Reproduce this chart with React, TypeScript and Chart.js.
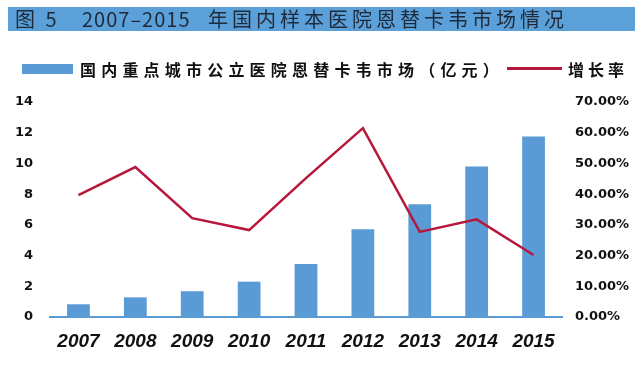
import React, { useEffect, useRef } from "react";
import { Chart, registerables } from "chart.js";

Chart.register(...registerables);

const years = ["2007", "2008", "2009", "2010", "2011", "2012", "2013", "2014", "2015"];
const marketValues = [0.83, 1.28, 1.68, 2.3, 3.45, 5.72, 7.35, 9.8, 11.75];
const growthRates = [39.7, 48.8, 32.2, 28.3, 45.2, 61.5, 27.7, 31.8, 20.2];
const leftTicksMax = 14;
const rightTicksMax = 70;

const titleLabel = "图 5";
const titleYears = "2007–2015";
const titleText = "年国内样本医院恩替卡韦市场情况";
const barLabel = "国内重点城市公立医院恩替卡韦市场（亿元）";
const lineLabel = "增长率";

const BLUE = "#5b9bd5";
const RED = "#b8173c";

const titleFont: React.CSSProperties = {
  position: "absolute",
  top: 7,
  height: 24,
  lineHeight: "24px",
  fontFamily: "'Noto Sans CJK SC', sans-serif",
  fontSize: 20,
  color: "#1e2a3a",
  whiteSpace: "nowrap",
};

const legendFont: React.CSSProperties = {
  position: "absolute",
  top: 57,
  lineHeight: "24px",
  fontFamily: "'Noto Sans CJK SC', sans-serif",
  fontWeight: 700,
  fontSize: 16,
  color: "#111",
  whiteSpace: "nowrap",
};

export default function App() {
  const ref = useRef<HTMLCanvasElement | null>(null);

  useEffect(() => {
    if (!ref.current) return;
    const chart = new Chart(ref.current, {
      type: "bar",
      data: {
        labels: years,
        datasets: [
          {
            type: "line",
            label: lineLabel,
            data: growthRates,
            yAxisID: "y1",
            borderColor: RED,
            borderWidth: 2.5,
            pointRadius: 0,
            tension: 0,
            order: 0,
          },
          {
            type: "bar",
            label: barLabel,
            data: marketValues,
            yAxisID: "y",
            backgroundColor: BLUE,
            barPercentage: 0.4,
            categoryPercentage: 1,
            order: 1,
          },
        ],
      },
      options: {
        animation: false,
        responsive: false,
        maintainAspectRatio: false,
        layout: { padding: { top: 102, left: 0, right: 0, bottom: 0 } },
        plugins: { legend: { display: false }, tooltip: { enabled: false } },
        scales: {
          x: {
            grid: { display: false, drawTicks: false },
            border: { color: BLUE, width: 2, dash: [3, 2] },
            ticks: {
              color: "#111",
              padding: 13,
              font: { family: "Liberation Sans", size: 19, weight: "bold", style: "italic" },
            },
            afterFit: (s: any) => {
              s.height = 49;
            },
          },
          y: {
            position: "left",
            min: 0,
            max: leftTicksMax,
            grid: { display: false, drawTicks: false },
            border: { display: false },
            ticks: {
              stepSize: 2,
              color: "#111",
              padding: 17,
              font: { family: "DejaVu Sans", size: 13, weight: "bold" },
            },
            afterFit: (s: any) => {
              s.width = 50;
            },
          },
          y1: {
            position: "right",
            min: 0,
            max: rightTicksMax,
            grid: { display: false, drawTicks: false },
            border: { display: false },
            ticks: {
              stepSize: 10,
              color: "#111",
              padding: 13,
              font: { family: "DejaVu Sans", size: 13, weight: "bold" },
              callback: (v: any) => Number(v).toFixed(2) + "%",
            },
            afterFit: (s: any) => {
              s.width = 78;
            },
          },
        },
      },
    });
    return () => chart.destroy();
  }, []);

  return (
    <div
      style={{
        position: "fixed",
        left: 0,
        top: 0,
        width: 640,
        height: 366,
        background: "#fff",
        overflow: "hidden",
      }}
    >
      <canvas ref={ref} width={640} height={366} style={{ position: "absolute", left: 0, top: 0 }} />
      <div
        style={{
          position: "absolute",
          left: 8,
          top: 7,
          width: 627,
          height: 24,
          background: "#5ba0d8",
        }}
      />
      <div style={{ ...titleFont, left: 15, letterSpacing: 3 }}>{titleLabel}</div>
      <div style={{ ...titleFont, left: 82, letterSpacing: 1 }}>{titleYears}</div>
      <div style={{ ...titleFont, left: 208, letterSpacing: 4 }}>{titleText}</div>
      <div style={{ position: "absolute", left: 22, top: 64, width: 51, height: 10, background: BLUE }} />
      <div style={{ ...legendFont, left: 80, letterSpacing: 5.2 }}>{barLabel}</div>
      <div style={{ position: "absolute", left: 507, top: 67, width: 55, height: 3, background: RED }} />
      <div style={{ ...legendFont, left: 568, letterSpacing: 4 }}>{lineLabel}</div>
    </div>
  );
}
